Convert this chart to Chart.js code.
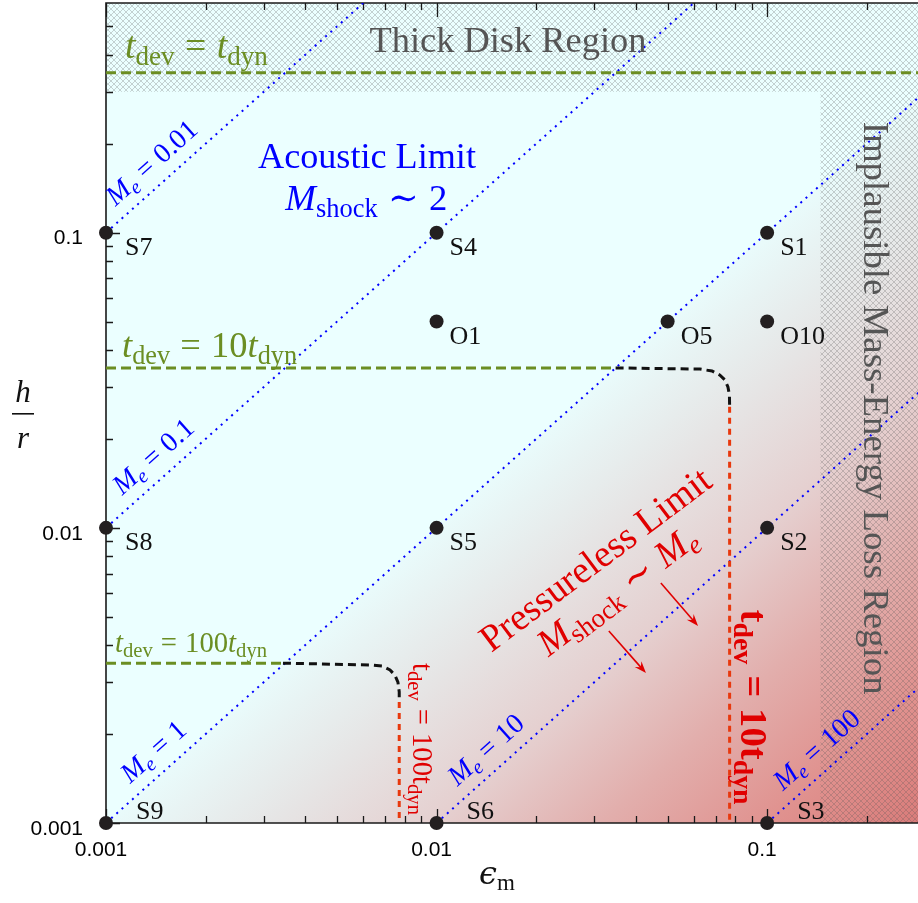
<!DOCTYPE html>
<html>
<head>
<meta charset="utf-8">
<title>h/r versus epsilon_m</title>
<script src="https://cdn.jsdelivr.net/npm/chart.js@4.4.1/dist/chart.umd.min.js"></script>
<style>
html,body{margin:0;padding:0;background:#fff;}
#wrap{position:relative;width:918px;height:903px;}
</style>
</head>
<body>
<div id="wrap"><canvas id="chart"></canvas></div>
<script>
// ---------------- axes ----------------
const xMin = 0.001, xMax = 0.286;
const yMin = 0.001, yMax = 0.6;
const xTickValues = [0.001,0.002,0.003,0.004,0.005,0.006,0.007,0.008,0.009,
                     0.01,0.02,0.03,0.04,0.05,0.06,0.07,0.08,0.09,0.1,0.2];
const yTickValues = [0.001,0.002,0.003,0.004,0.005,0.006,0.007,0.008,0.009,
                     0.01,0.02,0.03,0.04,0.05,0.06,0.07,0.08,0.09,0.1,0.2,0.3,0.4,0.5];
const xMajorTicks = [0.001, 0.01, 0.1];
const xTickLabels = ['0.001', '0.01', '0.1'];
const yMajorTicks = [0.001, 0.01, 0.1];
const yTickLabels = ['0.001', '0.01', '0.1'];

// ---------------- simulations ----------------
const simNames = ['S1','S2','S3','S4','S5','S6','S7','S8','S9','O1','O5','O10'];
const simEps   = [0.1, 0.1, 0.1, 0.01, 0.01, 0.01, 0.001, 0.001, 0.001, 0.01, 0.05, 0.1];
const simHr    = [0.1, 0.01, 0.001, 0.1, 0.01, 0.001, 0.1, 0.01, 0.001, 0.05, 0.05, 0.05];

// ---------------- constant M_e lines ----------------
const machLabels    = ['0.01', '0.1', '1', '10', '100'];
const machStartEps  = [0.001, 0.001, 0.001, 0.01, 0.1];
const machStartHr   = [0.1, 0.01, 0.001, 0.001, 0.001];
const machEndEps    = [0.006, 0.06, 0.6, 0.6, 0.6];
const machEndHr     = [0.6, 0.6, 0.6, 0.06, 0.006];
const machLabelEps  = [0.001134, 0.00119, 0.001258, 0.01229, 0.1187];

// ---------------- t_dev levels ----------------
const tdevLevels      = ['', '10', '100'];
const tdevHr          = [0.348, 0.0348, 0.00348];
const tdevGreenEndEps = [0.6, 0.0348, 0.00343];
const curve10Eps  = [0.0348, 0.0359, 0.0626, 0.0681, 0.0720, 0.0745, 0.0761, 0.0769, 0.0770];
const curve10Hr   = [0.0348, 0.0348, 0.0345, 0.0340, 0.0329, 0.0317, 0.0300, 0.0282, 0.0257];
const curve100Eps = [0.00343, 0.00629, 0.00684, 0.00723, 0.00748, 0.00764, 0.00771, 0.00771];
const curve100Hr  = [0.00348, 0.00343, 0.00340, 0.00330, 0.00317, 0.00300, 0.00278, 0.00257];
const limit10Eps  = [0.0770, 0.0770];
const limit10Hr   = [0.0257, 0.001];
const limit100Eps = [0.00771, 0.00771];
const limit100Hr  = [0.00257, 0.001];

// ---------------- regions & arrows ----------------
const thickDiskHr = 0.3;
const implausibleEps = 0.145;
const arrowStartEps = [0.0332, 0.0477];
const arrowStartHr  = [0.00447, 0.0065];
const arrowEndEps   = [0.0430, 0.0618];
const arrowEndHr    = [0.00322, 0.00465];

// ---------------- fonts / text helpers ----------------
const SERIF = "'Liberation Serif', 'DejaVu Serif', serif";
const GREEK = "'DejaVu Serif', serif";
const SANS  = "'Liberation Sans', Arial, sans-serif";

function fontFor(f, size, fam) {
  let s = '';
  if (f.includes('i')) s += 'italic ';
  if (f.includes('b')) s += 'bold ';
  const sz = f.includes('s') ? size * 0.72 : size;
  return s + sz.toFixed(2) + 'px ' + (f.includes('g') ? GREEK : fam);
}
function richWidth(ctx, parts, size, fam) {
  let w = 0;
  for (const p of parts) {
    if (typeof p === 'number') { w += p * size; continue; }
    ctx.font = fontFor(p[1], size, fam);
    w += ctx.measureText(p[0]).width;
  }
  return w;
}
function drawRich(ctx, parts, x, y, o) {
  const fam = o.family || SERIF;
  let size = o.size || 24;
  if (o.width) size = size * o.width / richWidth(ctx, parts, size, fam);
  const w = richWidth(ctx, parts, size, fam);
  ctx.save();
  ctx.translate(x, y);
  ctx.rotate(o.angle || 0);
  ctx.fillStyle = o.color || '#000';
  ctx.textAlign = 'left';
  ctx.textBaseline = 'alphabetic';
  let cx = -w * (o.align || 0);
  for (const p of parts) {
    if (typeof p === 'number') { cx += p * size; continue; }
    ctx.font = fontFor(p[1], size, fam);
    ctx.fillText(p[0], cx, p[1].includes('s') ? size * 0.18 : 0);
    cx += ctx.measureText(p[0]).width;
  }
  ctx.restore();
}
const REL = 0.28; // thick space around relations
function tdevGreen(n) {
  return [['t','i'],['dev','s'],REL,['=',''],REL,[n,''],['t','i'],['dyn','s']];
}
const DEG = Math.PI / 180;
const notes = [
  { parts: [['Thick Disk Region','']], eps: 0.01644, hr: 0.409, width: 277, align: 0.5, color: '#555555' },
  { parts: [['Implausible Mass-Energy Loss Region','']], eps: 0.1963, hr: 0.02545, width: 573, align: 0.5, angle: 90, color: '#555555' },
  { parts: [['Acoustic Limit','']], eps: 0.00616, hr: 0.1655, width: 218, align: 0.5, color: '#0000ff' },
  { parts: [['M','i'],['shock','s'],REL,['\u223C',''],REL,['2','']], eps: 0.00613, hr: 0.1193, width: 162, align: 0.5, color: '#0000ff' },
  { parts: [['Pressureless Limit','']], eps: 0.0318, hr: 0.00725, width: 279, align: 0.5, angle: -37, color: '#e00000' },
  { parts: [['M','i'],['shock','s'],REL,['\u223C',''],REL,['M','i'],['e','is']], eps: 0.03700, hr: 0.00569, width: 190, align: 0.5, angle: -37, color: '#e00000' },
  { parts: tdevGreen(tdevLevels[0]), eps: 0.001141, hr: 0.3904, width: 143, align: 0, color: '#6b8e23' },
  { parts: tdevGreen(tdevLevels[1]), eps: 0.001118, hr: 0.0379, width: 175, align: 0, color: '#6b8e23' },
  { parts: tdevGreen(tdevLevels[2]), eps: 0.001065, hr: 0.003796, width: 152, align: 0, color: '#6b8e23' },
  { parts: [['t',''],['dev','s'],REL,['=',''],REL,['100t',''],['dyn','s']], eps: 0.00849, hr: 0.001926, width: 152, align: 0.5, angle: 90, color: '#e00000' },
  { parts: [['t','b'],['dev','bs'],REL,['=','b'],REL,['10t','b'],['dyn','bs']], eps: 0.0833, hr: 0.00247, width: 195, align: 0.5, angle: 90, color: '#e00000' }
];

function isIn(v, list) { return list.some(m => Math.abs(m - v) / m < 1e-6); }

// ---------------- datasets ----------------
const datasets = [];
machLabels.forEach((m, i) => datasets.push({
  label: 'M_e = ' + m, showLine: true,
  data: [{x: machStartEps[i], y: machStartHr[i]}, {x: machEndEps[i], y: machEndHr[i]}],
  borderColor: '#0000ff', borderWidth: 2, borderDash: [2, 5], pointRadius: 0, order: 5
}));
tdevHr.forEach((h, i) => datasets.push({
  label: 't_dev level ' + i, showLine: true,
  data: [{x: xMin, y: h}, {x: tdevGreenEndEps[i], y: h}],
  borderColor: '#6b8e23', borderWidth: 3, borderDash: [10, 5], pointRadius: 0, order: 3
}));
[[curve10Eps, curve10Hr], [curve100Eps, curve100Hr]].forEach(([ex, hy], k) => datasets.push({
  label: 'transition ' + k, showLine: true,
  data: ex.map((e, j) => ({x: e, y: hy[j]})),
  borderColor: '#111111', borderWidth: 3, borderDash: [8, 5], pointRadius: 0, order: 3
}));
[[limit10Eps, limit10Hr], [limit100Eps, limit100Hr]].forEach(([ex, hy], k) => datasets.push({
  label: 'limit ' + k, showLine: true,
  data: ex.map((e, j) => ({x: e, y: hy[j]})),
  borderColor: '#e8380d', borderWidth: 3, borderDash: [6, 5], pointRadius: 0, order: 3
}));
datasets.push({
  label: 'simulations', showLine: false,
  data: simEps.map((e, i) => ({x: e, y: simHr[i]})),
  backgroundColor: '#231f20', borderWidth: 0, pointRadius: 7, clip: false, order: 0
});

// ---------------- hatch pattern ----------------
function makeHatch(ctx) {
  const c = document.createElement('canvas');
  c.width = 6; c.height = 6;
  const g = c.getContext('2d');
  g.strokeStyle = 'rgba(85,85,85,0.34)';
  g.lineWidth = 0.8;
  g.beginPath();
  g.moveTo(-1, -1); g.lineTo(7, 7);
  g.moveTo(7, -1); g.lineTo(-1, 7);
  g.stroke();
  return ctx.createPattern(c, 'repeat');
}

const bgPlugin = {
  id: 'bg',
  beforeDraw(chart) {
    const ctx = chart.ctx;
    ctx.save(); ctx.fillStyle = '#fff'; ctx.fillRect(0, 0, chart.width, chart.height); ctx.restore();
  },
  beforeDatasetsDraw(chart) {
    const ctx = chart.ctx, a = chart.chartArea;
    const xs = chart.scales.x, ys = chart.scales.y;
    ctx.save();
    ctx.beginPath(); ctx.rect(a.left, a.top, a.right - a.left + 2, a.bottom - a.top); ctx.clip();
    ctx.fillStyle = '#ebffff';
    ctx.fillRect(a.left, a.top, a.right - a.left + 2, a.bottom - a.top);
    // gradient below M_e = 1
    const p0 = [xs.getPixelForValue(machStartEps[2]), ys.getPixelForValue(machStartHr[2])];
    const p1 = [xs.getPixelForValue(machEndEps[2]), ys.getPixelForValue(machEndHr[2])];
    let dx = p1[0] - p0[0], dy = p1[1] - p0[1];
    const L = Math.hypot(dx, dy); dx /= L; dy /= L;
    const nx = -dy, ny = dx;
    const q = [xs.getPixelForValue(machStartEps[3]), ys.getPixelForValue(machStartHr[3])];
    const dec = (q[0] - p0[0]) * nx + (q[1] - p0[1]) * ny;
    const g = ctx.createLinearGradient(p0[0], p0[1], p0[0] + nx * dec * 2.5, p0[1] + ny * dec * 2.5);
    g.addColorStop(0.0, '#e9fbfb');
    g.addColorStop(0.2, '#e6e5e5');
    g.addColorStop(0.4, '#e5cfcf');
    g.addColorStop(0.6, '#e2aeac');
    g.addColorStop(0.8, '#e0928f');
    g.addColorStop(1.0, '#d97a78');
    ctx.fillStyle = g;
    ctx.beginPath();
    ctx.moveTo(p0[0] - dx * 50, p0[1] - dy * 50);
    ctx.lineTo(p0[0] + dx * 3000, p0[1] + dy * 3000);
    ctx.lineTo(p0[0] + dx * 3000 + nx * 3000, p0[1] + dy * 3000 + ny * 3000);
    ctx.lineTo(p0[0] - dx * 50 + nx * 3000, p0[1] - dy * 50 + ny * 3000);
    ctx.closePath();
    ctx.fill();
    // hatched regions
    const yT = ys.getPixelForValue(thickDiskHr);
    const xR = xs.getPixelForValue(implausibleEps);
    ctx.fillStyle = makeHatch(ctx);
    ctx.beginPath();
    ctx.rect(a.left, a.top, a.right - a.left + 2, yT - a.top);
    ctx.rect(xR, yT, a.right - xR + 2, a.bottom - yT);
    ctx.fill();
    ctx.restore();

    // ticks (inside) and frame
    ctx.save();
    ctx.strokeStyle = '#1a1a1a';
    ctx.lineWidth = 1.3;
    ctx.beginPath();
    for (const v of xTickValues) {
      const px = Math.round(xs.getPixelForValue(v)) + 0.5;
      const len = isIn(v, xMajorTicks) ? 14 : 7;
      ctx.moveTo(px, a.bottom); ctx.lineTo(px, a.bottom - len);
      ctx.moveTo(px, a.top); ctx.lineTo(px, a.top + len);
    }
    for (const v of yTickValues) {
      const py = Math.round(ys.getPixelForValue(v)) + 0.5;
      const len = isIn(v, yMajorTicks) ? 14 : 7;
      ctx.moveTo(a.left, py); ctx.lineTo(a.left + len, py);
    }
    ctx.stroke();
    ctx.lineWidth = 1.6;
    ctx.beginPath();
    ctx.moveTo(a.right + 2, a.top); ctx.lineTo(a.left, a.top);
    ctx.lineTo(a.left, a.bottom); ctx.lineTo(a.right + 2, a.bottom);
    ctx.stroke();
    ctx.restore();
  }
};

function drawArrow(ctx, x0, y0, x1, y1) {
  const ang = Math.atan2(y1 - y0, x1 - x0);
  const c = Math.cos(ang), s = Math.sin(ang);
  const Lh = 12, W = 4.5;
  ctx.beginPath(); ctx.moveTo(x0, y0); ctx.lineTo(x1 - c * 6, y1 - s * 6); ctx.stroke();
  ctx.beginPath();
  ctx.moveTo(x1, y1);
  ctx.lineTo(x1 - c * Lh - s * W, y1 - s * Lh + c * W);
  ctx.lineTo(x1 - c * Lh * 0.65, y1 - s * Lh * 0.65);
  ctx.lineTo(x1 - c * Lh + s * W, y1 - s * Lh - c * W);
  ctx.closePath();
  ctx.fill();
}

const notesPlugin = {
  id: 'notes',
  afterDatasetsDraw(chart) {
    const ctx = chart.ctx;
    const xs = chart.scales.x, ys = chart.scales.y;
    const X = v => xs.getPixelForValue(v), Y = v => ys.getPixelForValue(v);
    // arrows
    ctx.save();
    ctx.strokeStyle = '#e00000'; ctx.fillStyle = '#e00000'; ctx.lineWidth = 1.6;
    arrowStartEps.forEach((e, i) => drawArrow(ctx, X(e), Y(arrowStartHr[i]), X(arrowEndEps[i]), Y(arrowEndHr[i])));
    ctx.restore();
    // M_e labels along lines
    machLabels.forEach((m, i) => {
      const sx = X(machStartEps[i]), sy = Y(machStartHr[i]);
      const ex = X(machEndEps[i]), ey = Y(machEndHr[i]);
      const ang = Math.atan2(ey - sy, ex - sx);
      const dx = Math.cos(ang), dy = Math.sin(ang);
      const px = X(machLabelEps[i]);
      const t = (px - sx) / (ex - sx);
      const py = sy + t * (ey - sy);
      const off = 13;
      drawRich(ctx, [['M','i'],['e','is'],REL,['=',''],REL,[m,'']], px + dy * off, py - dx * off,
        { size: 28, color: '#0000ff', align: 0, angle: ang });
    });
    // annotations
    for (const n of notes) {
      drawRich(ctx, n.parts, X(n.eps), Y(n.hr),
        { size: 30, width: n.width, align: n.align, angle: (n.angle || 0) * DEG, color: n.color });
    }
    // point labels
    ctx.save();
    ctx.fillStyle = '#111';
    ctx.font = '26px ' + SERIF;
    ctx.textAlign = 'left'; ctx.textBaseline = 'alphabetic';
    simNames.forEach((nm, i) => {
      const px = X(simEps[i]), py = Y(simHr[i]);
      if (simHr[i] <= yMin * 1.0001) ctx.fillText(nm, px + 30, py - 4);
      else if (simEps[i] <= xMin * 1.0001) ctx.fillText(nm, px + 19, py + 22);
      else ctx.fillText(nm, px + 13, py + 22);
    });
    ctx.restore();
  },
  afterDraw(chart) {
    const ctx = chart.ctx;
    // x title: epsilon_m
    drawRich(ctx, [['\u03F5','ig'],['m','s']], 497, 884, { size: 32, align: 0.5, color: '#111' });
    // y title: h / r
    ctx.save();
    ctx.fillStyle = '#111';
    ctx.textAlign = 'center'; ctx.textBaseline = 'alphabetic';
    ctx.font = 'italic 31px ' + SERIF;
    ctx.fillText('h', 23, 402);
    ctx.fillText('r', 23, 448);
    ctx.fillRect(12, 413, 22, 1.6);
    ctx.restore();
  }
};

// ---------------- chart ----------------
new Chart(document.getElementById('chart'), {
  type: 'scatter',
  data: { datasets },
  options: {
    responsive: true, maintainAspectRatio: false, animation: false, events: [],
    layout: { autoPadding: false, padding: { top: 3, right: 0, bottom: 0, left: 0 } },
    plugins: { legend: { display: false }, tooltip: { enabled: false } },
    scales: {
      x: {
        type: 'logarithmic', position: 'bottom', min: xMin, max: xMax,
        grid: { display: false }, border: { display: false },
        afterBuildTicks: s => { s.ticks = xTickValues.map(v => ({ value: v, major: isIn(v, xMajorTicks) })); },
        afterFit: s => { s.height = 80; s.paddingLeft = 0; s.paddingRight = 0; s.paddingTop = 0; s.paddingBottom = 0; },
        ticks: {
          autoSkip: false, maxRotation: 0, padding: 7, labelOffset: -5, color: '#000',
          font: { family: SANS, size: 21 },
          callback: v => { const i = xMajorTicks.findIndex(m => Math.abs(m - v) / m < 1e-6); return i >= 0 ? xTickLabels[i] : null; }
        }
      },
      y: {
        type: 'logarithmic', position: 'left', min: yMin, max: yMax,
        grid: { display: false }, border: { display: false },
        afterBuildTicks: s => { s.ticks = yTickValues.map(v => ({ value: v, major: isIn(v, yMajorTicks) })); },
        afterFit: s => { s.width = 106; s.paddingLeft = 0; s.paddingRight = 0; s.paddingTop = 0; s.paddingBottom = 0; },
        ticks: {
          autoSkip: false, padding: 15, labelOffset: 6, color: '#000',
          font: { family: SANS, size: 21 },
          callback: v => { const i = yMajorTicks.findIndex(m => Math.abs(m - v) / m < 1e-6); return i >= 0 ? yTickLabels[i] : null; }
        }
      }
    }
  },
  plugins: [bgPlugin, notesPlugin]
});
</script>
</body>
</html>
